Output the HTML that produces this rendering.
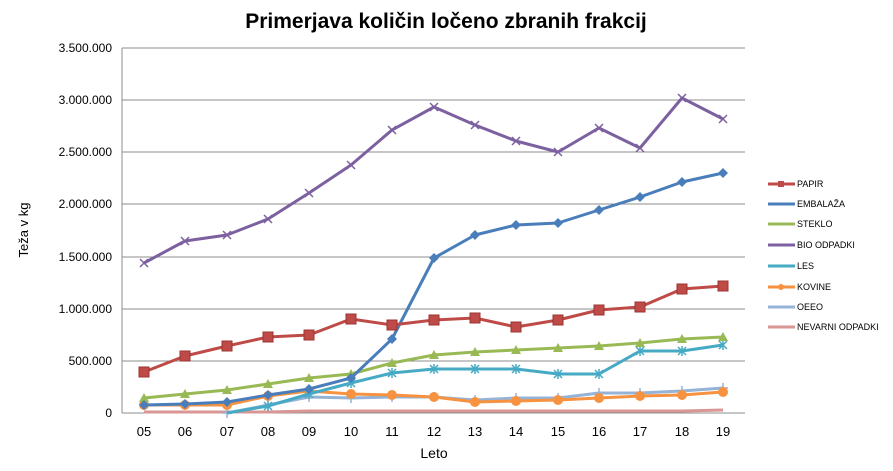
<!DOCTYPE html>
<html><head><meta charset="utf-8"><style>
body{margin:0;background:#fff}
svg{display:block;font-family:"Liberation Sans",sans-serif}
</style></head><body>
<svg width="893" height="471" viewBox="0 0 893 471" xmlns="http://www.w3.org/2000/svg">
<defs>
<marker id="sq" markerWidth="12" markerHeight="12" refX="6" refY="6" markerUnits="userSpaceOnUse"><rect x="1" y="1" width="10" height="10" fill="#be4b48" stroke="#9c3532"/></marker>
<marker id="di" markerWidth="10" markerHeight="10" refX="5" refY="5" markerUnits="userSpaceOnUse"><path d="M5 0L10 5L5 10L0 5Z" fill="#4a7ebb"/></marker>
<marker id="tr" markerWidth="12" markerHeight="12" refX="6" refY="6" markerUnits="userSpaceOnUse"><path d="M6 1L11 10H1Z" fill="#98b954"/></marker>
<marker id="xx" markerWidth="12" markerHeight="12" refX="6" refY="6" markerUnits="userSpaceOnUse"><path d="M2 2L10 10M10 2L2 10" stroke="#7d60a0" stroke-width="1.5"/></marker>
<marker id="st" markerWidth="12" markerHeight="12" refX="6" refY="6" markerUnits="userSpaceOnUse"><path d="M2 2L10 10M10 2L2 10M6 1V11" stroke="#46aac5" stroke-width="1.5"/></marker>
<marker id="ci" markerWidth="12" markerHeight="12" refX="6" refY="6" markerUnits="userSpaceOnUse"><circle cx="6" cy="6" r="5" fill="#f69240"/></marker>
<marker id="pl" markerWidth="12" markerHeight="12" refX="6" refY="6" markerUnits="userSpaceOnUse"><path d="M1 6H11M6 1V11" stroke="#95b3d7" stroke-width="1.5"/></marker>
</defs>
<text x="446" y="28" text-anchor="middle" font-size="21" font-weight="bold" fill="#000">Primerjava količin ločeno zbranih frakcij</text>
<g stroke="#8c8c8c" stroke-width="1">
<line x1="122" y1="48" x2="745" y2="48"/><line x1="122" y1="100" x2="745" y2="100"/><line x1="122" y1="152" x2="745" y2="152"/><line x1="122" y1="204" x2="745" y2="204"/><line x1="122" y1="257" x2="745" y2="257"/><line x1="122" y1="309" x2="745" y2="309"/><line x1="122" y1="361" x2="745" y2="361"/><line x1="122" y1="413" x2="745" y2="413"/><line x1="122" y1="48" x2="122" y2="413"/>
</g>
<g font-size="12" text-anchor="end" fill="#000">
<text x="112" y="52">3.500.000</text><text x="112" y="104">3.000.000</text><text x="112" y="156">2.500.000</text><text x="112" y="208">2.000.000</text><text x="112" y="261">1.500.000</text><text x="112" y="313">1.000.000</text><text x="112" y="365">500.000</text><text x="112" y="417">0</text>
</g>
<g font-size="13" text-anchor="middle" fill="#000">
<text x="144" y="436">05</text><text x="185" y="436">06</text><text x="227" y="436">07</text><text x="268" y="436">08</text><text x="309" y="436">09</text><text x="351" y="436">10</text><text x="392" y="436">11</text><text x="434" y="436">12</text><text x="475" y="436">13</text><text x="516" y="436">14</text><text x="558" y="436">15</text><text x="599" y="436">16</text><text x="640" y="436">17</text><text x="682" y="436">18</text><text x="723" y="436">19</text>
<text x="434" y="458" font-size="14">Leto</text>
</g>
<text x="0" y="0" font-size="13" text-anchor="middle" transform="translate(28 230) rotate(-90)">Teža v kg</text>
<g fill="none" stroke-width="3" stroke-linejoin="round">
<polyline stroke="#d99694" points="144,412 185,412 227,412 268,412 309,411 351,411 392,411 434,411 475,411 516,411 558,411 599,411 640,411 682,411 723,410"/>
<polyline stroke="#95b3d7" marker-start="url(#pl)" marker-mid="url(#pl)" marker-end="url(#pl)" points="227,413 268,405 309,397 351,398 392,397 434,397 475,400 516,398 558,398 599,393 640,393 682,391 723,388"/>
<polyline stroke="#f69240" marker-start="url(#ci)" marker-mid="url(#ci)" marker-end="url(#ci)" points="144,405 185,405 227,405 268,396 309,391 351,394 392,395 434,397 475,402 516,401 558,400 599,398 640,396 682,395 723,392"/>
<polyline stroke="#46aac5" marker-mid="url(#st)" marker-end="url(#st)" points="227,413 268,406 309,394 351,383 392,373 434,369 475,369 516,369 558,374 599,374 640,351 682,351 723,345"/>
<polyline stroke="#98b954" marker-start="url(#tr)" marker-mid="url(#tr)" marker-end="url(#tr)" points="144,398 185,394 227,390 268,384 309,378 351,374 392,363 434,355 475,352 516,350 558,348 599,346 640,343 682,339 723,337"/>
<polyline stroke="#4a7ebb" marker-start="url(#di)" marker-mid="url(#di)" marker-end="url(#di)" points="144,405 185,404 227,402 268,395 309,389 351,378 392,339 434,258 475,235 516,225 558,223 599,210 640,197 682,182 723,173"/>
<polyline stroke="#be4b48" marker-start="url(#sq)" marker-mid="url(#sq)" marker-end="url(#sq)" points="144,372 185,356 227,346 268,337 309,335 351,319 392,325 434,320 475,318 516,327 558,320 599,310 640,307 682,289 723,286"/>
<polyline stroke="#7d60a0" marker-start="url(#xx)" marker-mid="url(#xx)" marker-end="url(#xx)" points="144,263 185,241 227,235 268,219 309,193 351,165 392,130 434,107 475,125 516,141 558,152 599,128 640,148 682,98 723,119"/>
</g>
<g font-size="9" fill="#000" stroke-width="3">
<line x1="768" y1="184" x2="795" y2="184" stroke="#be4b48"/><rect x="778" y="181" width="6" height="6" fill="#be4b48"/><text x="797" y="187">PAPIR</text>
<line x1="768" y1="204" x2="795" y2="204" stroke="#4a7ebb"/><text x="797" y="207">EMBALAŽA</text>
<line x1="768" y1="224" x2="795" y2="224" stroke="#98b954"/><text x="797" y="227">STEKLO</text>
<line x1="768" y1="245" x2="795" y2="245" stroke="#7d60a0"/><text x="797" y="248">BIO ODPADKI</text>
<line x1="768" y1="266" x2="795" y2="266" stroke="#46aac5"/><text x="797" y="269">LES</text>
<line x1="768" y1="287" x2="795" y2="287" stroke="#f69240"/><circle cx="781" cy="287" r="3" fill="#f69240" stroke="none"/><text x="797" y="290">KOVINE</text>
<line x1="768" y1="307" x2="795" y2="307" stroke="#95b3d7"/><text x="797" y="310">OEEO</text>
<line x1="768" y1="327" x2="795" y2="327" stroke="#d99694"/><text x="797" y="330">NEVARNI ODPADKI</text>
</g>
</svg>
</body></html>
